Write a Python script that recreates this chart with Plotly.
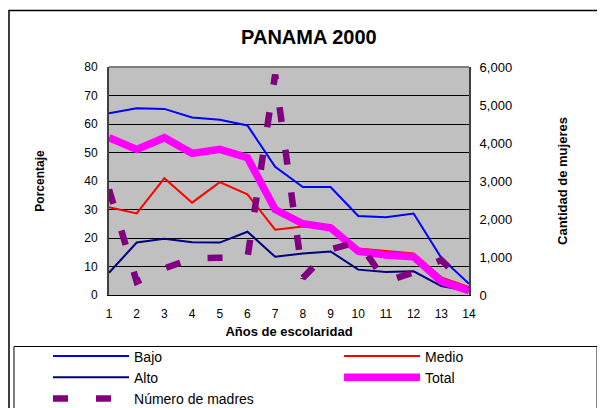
import plotly.graph_objects as go

anos = list(range(1, 15))
bajo = [63.8, 65.5, 65.3, 62.3, 61.5, 59.5, 45.0, 37.9, 37.9, 27.7, 27.3, 28.6, 13.0, 3.9]
medio = [30.8, 28.6, 41.0, 32.4, 39.6, 35.3, 22.9, 24.0, 23.6, 16.3, 15.4, 14.6, 6.2, 2.8]
alto = [7.8, 18.4, 19.7, 18.5, 18.4, 22.2, 13.4, 14.6, 15.3, 8.9, 8.1, 8.3, 3.1, 1.3]
total = [55.2, 51.1, 55.2, 49.7, 51.1, 48.2, 30.0, 25.0, 23.6, 15.4, 14.0, 13.4, 4.8, 1.5]
madres = [2780, 350, 700, 960, 980, 980, 5800, 450, 1200, 1400, 350, 600, 920, 200]

FONT = "Arial, Liberation Sans, sans-serif"

fig = go.Figure()
fig.add_trace(go.Scatter(x=anos, y=bajo, name="Bajo", mode="lines", legend="legend",
                         line=dict(color="#0000FF", width=2)))
fig.add_trace(go.Scatter(x=anos, y=medio, name="Medio", mode="lines", legend="legend2",
                         line=dict(color="#FF0000", width=2)))
fig.add_trace(go.Scatter(x=anos, y=alto, name="Alto", mode="lines", legend="legend",
                         line=dict(color="#000080", width=2)))
fig.add_trace(go.Scatter(x=anos, y=total, name="Total", mode="lines", legend="legend2",
                         line=dict(color="#FF00FF", width=7.5)))
fig.add_trace(go.Scatter(x=anos, y=madres, name="Número de madres", mode="lines",
                         yaxis="y2", legend="legend",
                         line=dict(color="#800080", width=6.5, dash="15px,28px")))

legend_common = dict(orientation="v", yanchor="top", xanchor="left",
                     bgcolor="rgba(0,0,0,0)", borderwidth=0,
                     font=dict(size=14, family=FONT, color="black"),
                     itemwidth=76, traceorder="normal")

fig.update_layout(
    width=597, height=400,
    margin=dict(l=101, r=136, t=59, b=112.6, autoexpand=False),
    paper_bgcolor="white",
    plot_bgcolor="#C0C0C0",
    font=dict(family=FONT, size=12, color="black"),
    title=dict(text="<b>PANAMA 2000</b>", x=0.504, xanchor="center", y=0.9275, yanchor="middle",
               font=dict(size=20, family=FONT, color="black")),
    xaxis=dict(range=[1, 14], tickmode="array", tickvals=anos, ticktext=[str(a) for a in anos],
               showgrid=False, zeroline=False, showline=True, linecolor="black", linewidth=1,
               ticks="", ticklabelstandoff=8, tickfont=dict(size=12),
               title=dict(text="<b>Años de escolaridad</b>", font=dict(size=13), standoff=6)),
    yaxis=dict(range=[0, 80], dtick=10, showgrid=True, gridcolor="black", gridwidth=1,
               zeroline=False, showline=True, linecolor="#404040", linewidth=2,
               ticks="", ticklabelstandoff=7, tickfont=dict(size=12),
               title=dict(text="<b>Porcentaje</b>", font=dict(size=12), standoff=37)),
    yaxis2=dict(range=[0, 6000], dtick=1000, tickformat=",", overlaying="y", side="right",
                showgrid=False, zeroline=False, showline=True, linecolor="#404040", linewidth=2,
                ticks="", ticklabelstandoff=6, tickfont=dict(size=13),
                title=dict(text="<b>Cantidad de mujeres</b>", font=dict(size=13), standoff=47)),
    legend=dict(x=-0.1694, y=-0.1996, **legend_common),
    legend2=dict(x=0.639, y=-0.1996, **legend_common),
    shapes=[
        dict(type="rect", xref="paper", yref="paper", x0=-0.2778, x1=1.5, y0=-0.7, y1=1.2474,
             line=dict(color="black", width=1.5), fillcolor="rgba(0,0,0,0)", layer="below"),
        dict(type="rect", xref="paper", yref="paper", x0=-0.2639, x1=1.3556, y0=-0.7, y1=-0.2259,
             line=dict(color="black", width=1), fillcolor="white", layer="below"),
        dict(type="line", xref="paper", yref="paper", x0=0, x1=1, y0=1, y1=1,
             line=dict(color="#808080", width=2)),
    ],
)

fig.write_html("out.html")
